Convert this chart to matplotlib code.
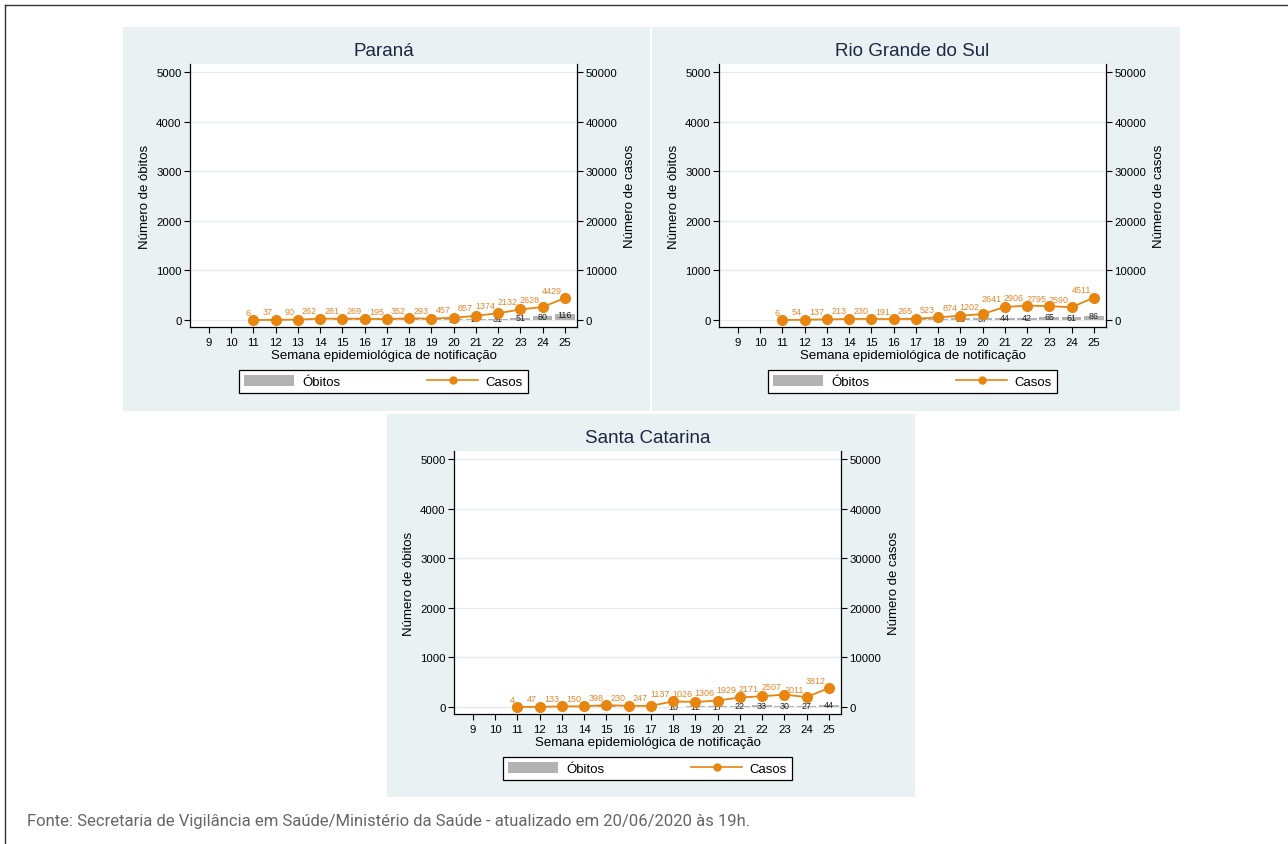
import matplotlib
matplotlib.use("Agg")
import matplotlib.pyplot as plt
from matplotlib.patches import Rectangle, Patch
from matplotlib.lines import Line2D

# ---------------- data ----------------
semanas = list(range(11, 26))
xticks = list(range(9, 26))

pr_obitos = [0, 1, 2, 4, 20, 23, 15, 24, 18, 15, 27, 31, 51, 80, 116]
pr_casos = [6, 37, 90, 262, 281, 269, 195, 352, 293, 457, 857, 1374, 2132, 2628, 4429]

rs_obitos = [0, 1, 2, 3, 5, 8, 15, 23, 33, 37, 44, 42, 65, 61, 86]
rs_casos = [6, 54, 137, 213, 230, 191, 265, 523, 874, 1202, 2641, 2906, 2795, 2590, 4511]

sc_obitos = [0, 1, 1, 3, 13, 6, 7, 10, 12, 17, 22, 33, 30, 27, 44]
sc_casos = [4, 47, 133, 150, 398, 230, 247, 1137, 1026, 1306, 1929, 2171, 2507, 2011, 3812]

titles = ["Paraná", "Rio Grande do Sul", "Santa Catarina"]
yticks_left = [0, 1000, 2000, 3000, 4000, 5000]
yticks_right = [0, 10000, 20000, 30000, 40000, 50000]

# ---------------- style ----------------
FONT = "Liberation Sans"
plt.rcParams["font.family"] = [FONT, "DejaVu Sans"]
W, H = 1288, 845
BG = "#e9f1f3"
ORANGE = "#e8850f"
LABEL_OR = "#e8862a"
GREY = "#b3b3b3"
TITLE_C = "#1c2742"

fig = plt.figure(figsize=(W / 100, H / 100), dpi=100)
fig.patch.set_facecolor("white")


def fx(px):
    return px / W


def fy(py):
    return 1 - py / H


# outer frame lines
fig.add_artist(Line2D([fx(5), 1.0], [fy(6), fy(6)], color="#333333", lw=1.0))
fig.add_artist(Line2D([fx(5), fx(5)], [fy(6), 0.0], color="#333333", lw=1.0))

# panels: (panel_left, panel_top, panel_right, panel_bottom) and axes (left, top, right, bottom) in px
panels = [
    ((123, 28, 650, 412), (190, 65, 577, 328)),
    ((652, 28, 1180, 412), (719, 65, 1106, 328)),
    ((387, 415, 915, 798), (454, 452, 841, 715)),
]
datasets = [(pr_obitos, pr_casos), (rs_obitos, rs_casos), (sc_obitos, sc_casos)]

for (pan, axp), (obitos, casos), title in zip(panels, datasets, titles):
    pl, pt, pr, pb = pan
    fig.add_artist(Rectangle((fx(pl), fy(pb)), fx(pr - pl), (pb - pt) / H,
                             facecolor=BG, edgecolor="none", zorder=0,
                             transform=fig.transFigure))
    al, at, ar, ab = axp
    ax = fig.add_axes([fx(al), fy(ab), fx(ar - al), (ab - at) / H])
    ax.set_facecolor("white")
    ax.set_zorder(1)
    ax.set_xlim(8.15, 25.55)
    ax.set_ylim(-140, 5160)
    ax.set_yticks(yticks_left)
    ax.set_yticklabels([str(v) for v in yticks_left])
    ax.set_xticks(xticks)
    ax.set_xticklabels([str(v) for v in xticks])
    for v in yticks_left:
        ax.axhline(v, color="#e3eaed", lw=0.9, zorder=0)
    ax.bar(semanas, obitos, width=0.88, color=GREY, zorder=2)
    for x, v in zip(semanas, obitos):
        ax.text(x, v, str(v), ha="center", va="center", fontsize=6.4,
                color="#222222", zorder=3)
    ax.tick_params(axis="both", labelsize=8.2, direction="out", length=4,
                   width=0.8, colors="black")
    ax.tick_params(axis="y", pad=2)
    for s in ["top", "right"]:
        ax.spines[s].set_visible(False)
    for s in ["left", "bottom"]:
        ax.spines[s].set_linewidth(0.9)
    ax.set_ylabel("Número de óbitos", fontsize=9.5)
    ax.yaxis.set_label_coords(-39 / (ar - al), 0.5)
    ax.set_xlabel("Semana epidemiológica de notificação", fontsize=9.5)
    ax.xaxis.set_label_coords(0.5, -0.083)
    ax.text(0.5, 1 + 13 / (ab - at), title, transform=ax.transAxes,
            ha="center", va="center", fontsize=13.5, color=TITLE_C)

    ax2 = ax.twinx()
    ax2.set_ylim(-1400, 51600)
    ax2.set_yticks(yticks_right)
    ax2.set_yticklabels([str(v) for v in yticks_right])
    ax2.plot(semanas, casos, color=ORANGE, lw=1.3, marker="o",
             markersize=7, zorder=4)
    for x, v in zip(semanas, casos):
        ax2.annotate(str(v), (x, v), xytext=(-3, 8), textcoords="offset pixels",
                     ha="right", va="center", fontsize=6.5, color=LABEL_OR)
    ax2.tick_params(axis="y", labelsize=8.2, direction="out", length=4,
                    width=0.8, pad=2)
    for s in ["top", "left", "bottom"]:
        ax2.spines[s].set_visible(False)
    ax2.spines["right"].set_linewidth(0.9)
    ax2.set_ylabel("Número de casos", fontsize=9.5)
    ax2.yaxis.set_label_coords(1 + 47 / (ar - al), 0.5)

    handles = [Patch(facecolor=GREY, edgecolor="none", label="Óbitos"),
               Line2D([], [], color=ORANGE, lw=1.2, marker="o", markersize=5,
                      label="Casos")]
    leg = ax.legend(handles=handles, loc="upper center",
                    bbox_to_anchor=(0.5, -36 / (ab - at)), ncol=2,
                    fontsize=9.5, frameon=True, fancybox=False,
                    edgecolor="black", framealpha=1, handlelength=3.8,
                    handleheight=0.9, columnspacing=6.6, borderpad=0.4,
                    handletextpad=0.6)
    leg.get_frame().set_linewidth(0.9)

fig.text(fx(27), fy(822), "Fonte: Secretaria de Vigilância em Saúde/Ministério da Saúde - atualizado em 20/06/2020 às 19h.",
         ha="left", va="center", fontsize=12, color="#666666",
         family=["Roboto", "DejaVu Sans"])

fig.savefig("out.png", dpi=100)
